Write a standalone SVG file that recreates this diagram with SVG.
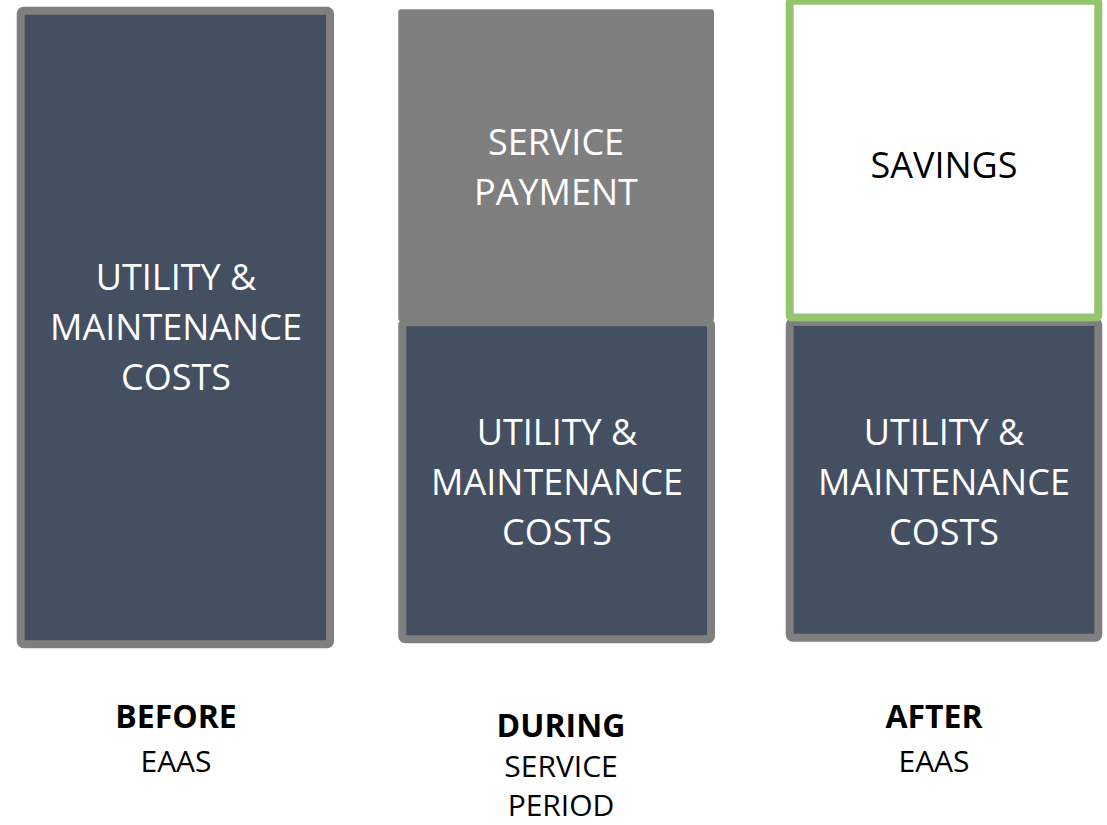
<svg xmlns="http://www.w3.org/2000/svg" width="1107" height="825" viewBox="0 0 1107 825">
<style>
.cost{fill:#445061;stroke:#7f7f7f;stroke-width:8}
.pay{fill:#7f7f7f}
.save{fill:#ffffff;stroke:#94c56c;stroke-width:8}
.w{font-family:"Open Sans","Liberation Sans",sans-serif;font-size:36px;fill:#ffffff;text-anchor:middle}
.k{font-family:"Open Sans","Liberation Sans",sans-serif;font-size:36px;fill:#000000;text-anchor:middle}
.lb{font-family:"Open Sans","Liberation Sans",sans-serif;font-size:32px;font-weight:bold;fill:#000000;text-anchor:middle}
.lr{font-family:"Open Sans","Liberation Sans",sans-serif;font-size:30px;fill:#000000;text-anchor:middle}
</style>
<rect width="1107" height="825" fill="#ffffff"/>
<g id="before-costs">
<rect class="cost" x="20.7" y="10.8" width="309.3" height="633.5" rx="3"/>
<text class="w" x="176" y="290">UTILITY &amp;</text>
<text class="w" x="176" y="340">MAINTENANCE</text>
<text class="w" x="176" y="390">COSTS</text>
</g>
<g id="during-payment">
<rect class="pay" x="398.3" y="9.3" width="315.7" height="312" rx="3"/>
<text class="w" x="556" y="155">SERVICE</text>
<text class="w" x="556" y="205">PAYMENT</text>
</g>
<g id="during-costs">
<rect class="cost" x="402.3" y="322.3" width="308.7" height="317" rx="3"/>
<text class="w" x="557" y="445">UTILITY &amp;</text>
<text class="w" x="557" y="495">MAINTENANCE</text>
<text class="w" x="557" y="545">COSTS</text>
</g>
<g id="after-costs">
<rect class="cost" x="789.7" y="322" width="308.6" height="315.7" rx="3"/>
<text class="w" x="944" y="445">UTILITY &amp;</text>
<text class="w" x="944" y="495">MAINTENANCE</text>
<text class="w" x="944" y="545">COSTS</text>
</g>
<g id="after-savings">
<rect class="save" x="789.7" y="0.7" width="308.6" height="316.8" rx="2"/>
<text class="k" x="944" y="178">SAVINGS</text>
</g>
<g id="labels">
<text class="lb" x="176" y="728">BEFORE</text>
<text class="lr" x="176" y="772">EAAS</text>
<text class="lb" x="561" y="737">DURING</text>
<text class="lr" x="561" y="777">SERVICE</text>
<text class="lr" x="561" y="816">PERIOD</text>
<text class="lb" x="934" y="728">AFTER</text>
<text class="lr" x="934" y="772">EAAS</text>
</g>
<g id="connectors"/>
</svg>
